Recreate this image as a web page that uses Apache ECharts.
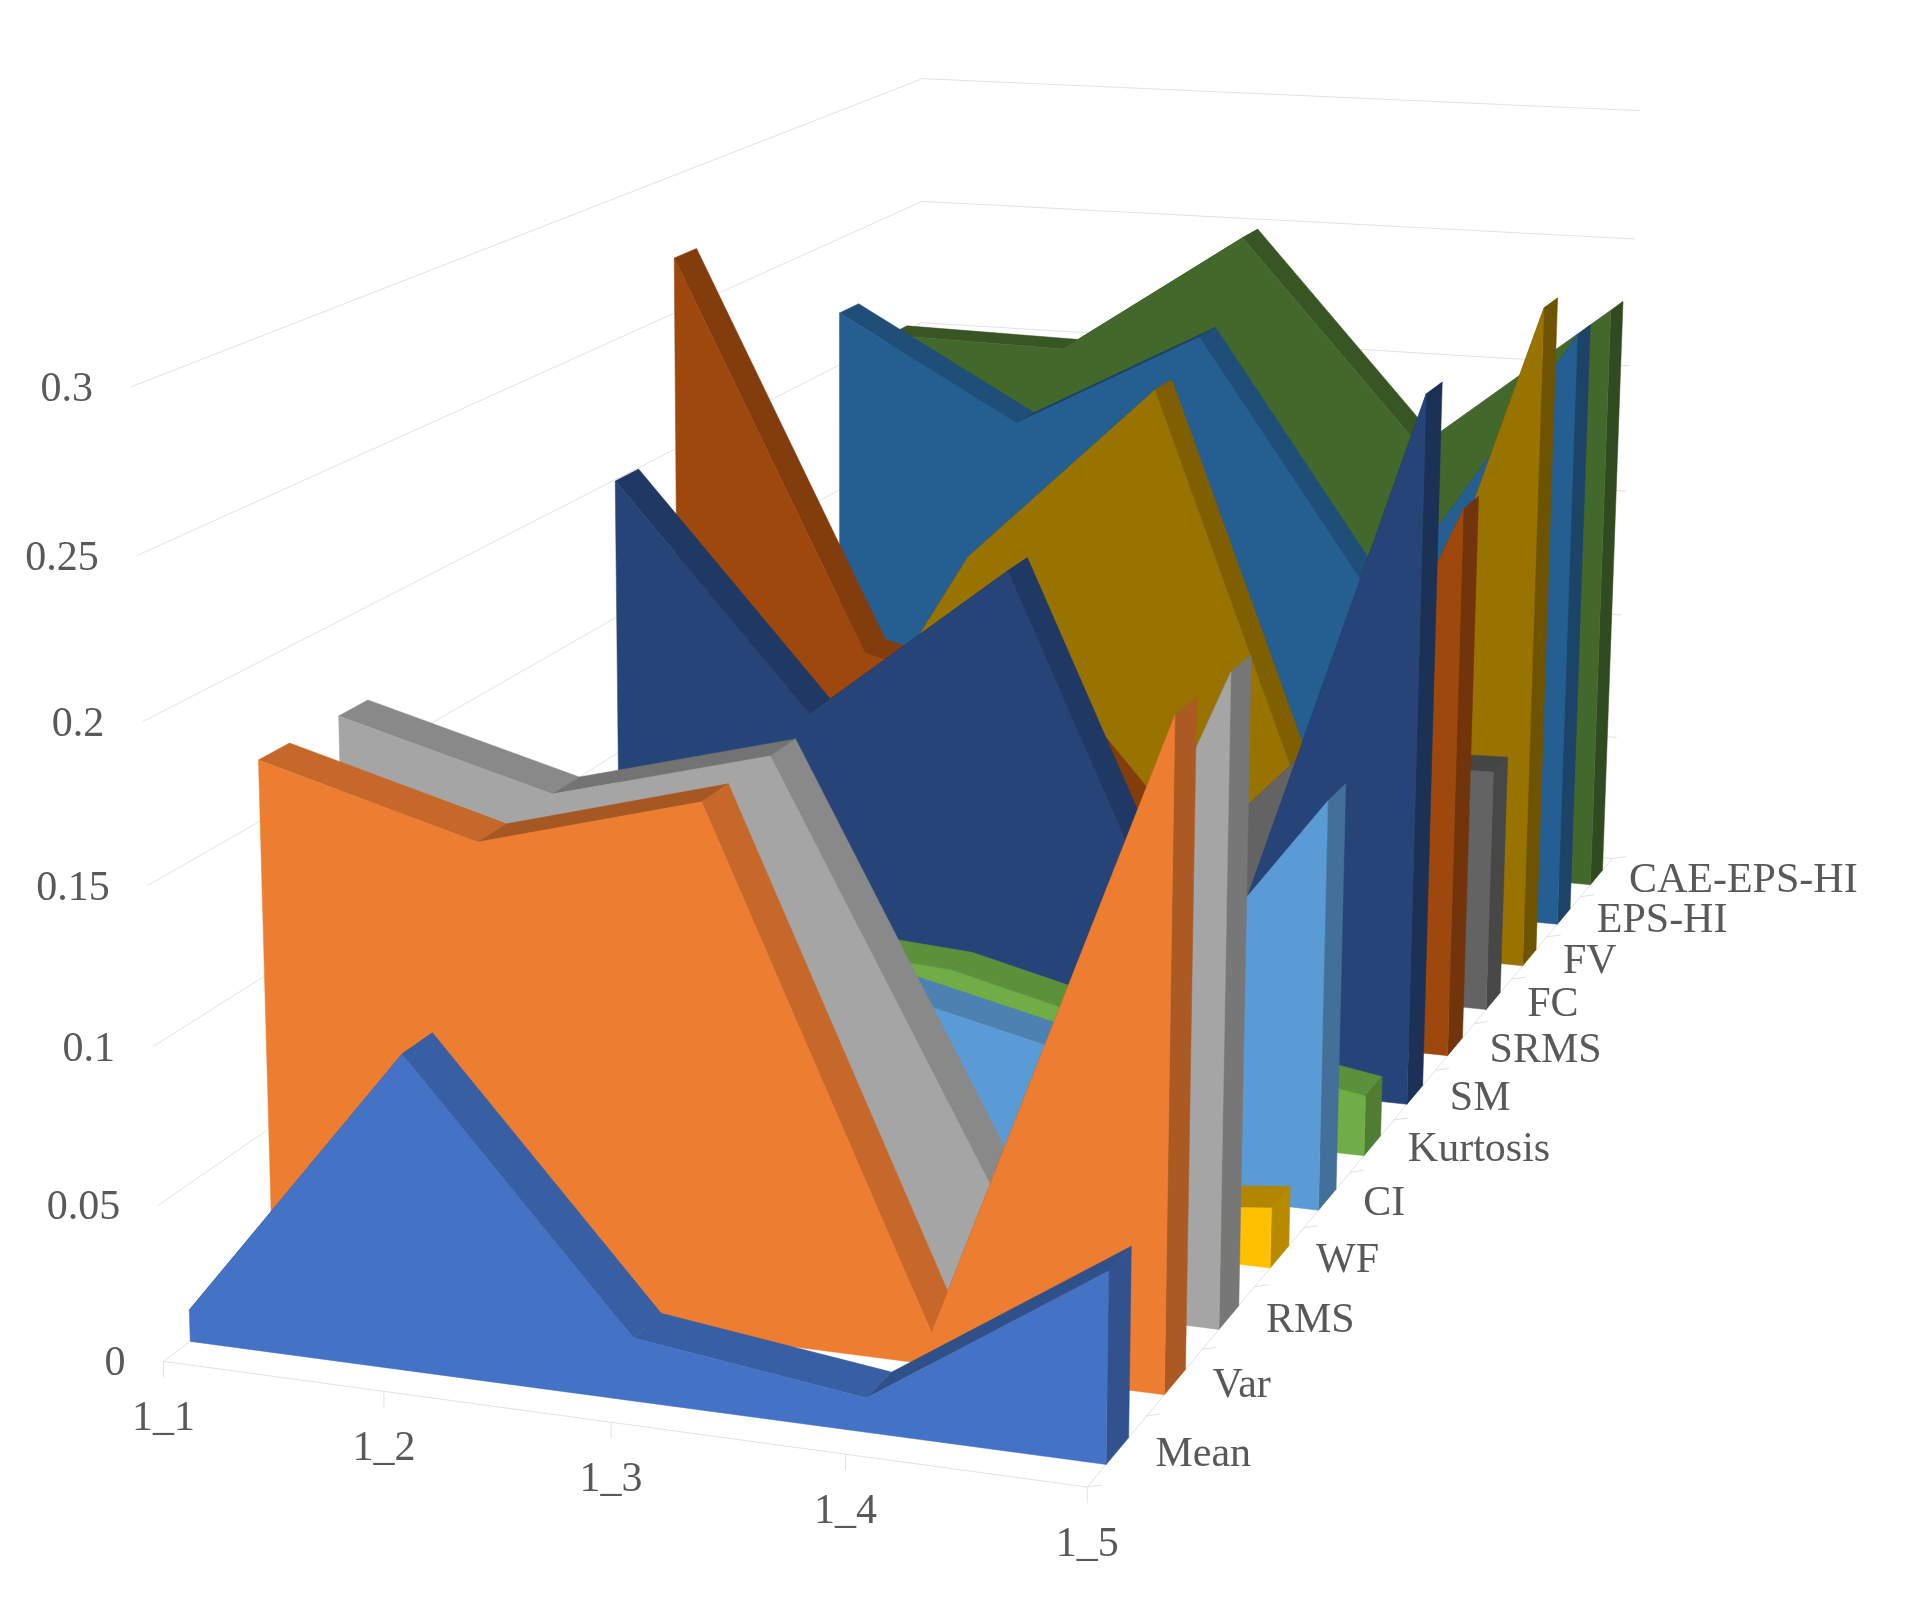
<!DOCTYPE html>
<html><head><meta charset="utf-8"><style>html,body{margin:0;background:#fff}#c{width:1906px;height:1606px;filter:blur(0.6px)}</style>
<script src="https://cdn.jsdelivr.net/npm/echarts@6/dist/echarts.min.js"></script></head><body><div id="c"></div>
<script>
const categories=['1_1','1_2','1_3','1_4','1_5'];
const seriesNames=['Mean','Var','RMS','WF','CI','Kurtosis','SM','SRMS','FC','FV','EPS-HI','CAE-EPS-HI'];
const valueTicks=[0,0.05,0.1,0.15,0.2,0.25,0.3];
const meanValues=[0.0102,0.1001,0.0199,0.0107,0.0590];
const varValues=[0.1695,0.1501,0.1694,0.0102,0.2085];
const rmsValues=[0.1695,0.1504,0.1692,0.0365,0.2078];
const wfValues=[0.01,0.012,0.014,0.012,0.0201];
const ciValues=[0.07,0.07,0.0582,0.0417,0.1383];
const kurtosisValues=[0.05,0.055,0.0502,0.0329,0.0211];
const smValues=[0.1995,0.1205,0.1778,0.0227,0.2493];
const srmsValues=[0.2701,0.1294,0.1125,0.0317,0.1982];
const fcValues=[0.0527,0.0593,0.0118,0.0876,0.0896];
const fvValues=[0.02,0.1404,0.2097,0.0232,0.2491];
const epsValues=[0.2206,0.1815,0.2197,0.1189,0.2291];
const caeValues=[0.2018,0.2005,0.249,0.1705,0.2284];
const allValues=[meanValues,varValues,rmsValues,wfValues,ciValues,kurtosisValues,smValues,srmsValues,fcValues,fvValues,epsValues,caeValues];
const colors=['#4472C4','#ED7D31','#A5A5A5','#FFC000','#5B9BD5','#70AD47','#264478','#9E480E','#636363','#997300','#255E91','#43682B'];
const GAP=0.31;
const floorPx=[[1105,1465,1128,1438],[1163,1395,1185,1369],[1219,1327,1238,1306],[1269,1269,1289,1248],[1318,1209,1337,1189],[1364,1155,1381,1137],[1407,1104,1423,1085],[1448,1054,1462,1039],[1487,1009,1501,993],[1522,965,1536,947],[1557,924,1570,910],[1591,885,1603,870]];
const anchors=[[0,0,0,166,1362],[4,0,0,1088,1488],[0,0,.3,131,384],[0,12,.3,921,79],[4,12,.3,1641,112],[0,12,.25,921,201],[4,12,.25,1635,240],[0,0,.25,137,555],[0,0,.2,143,722],[0,0,.15,149,885],[0,0,.1,153,1048],[0,0,.05,157,1206],[1,0,0,384,1391],[2,0,0,612,1424],[3,0,0,844,1453],[0,GAP,0,190,1342]];
floorPx.forEach((f,i)=>{anchors.push([4,i+GAP,0,f[0],f[1]]);anchors.push([4,i+1-GAP,0,f[2],f[3]]);});
function solve(){const n=11,A=[...Array(n)].map(()=>Array(n+1).fill(0));
 const add=(r,b)=>{for(let i=0;i<n;i++){for(let j=0;j<n;j++)A[i][j]+=r[i]*r[j];A[i][n]+=r[i]*b;}};
 anchors.forEach(a=>{const x=a[0]/4,y=a[1]/12,z=a[2]/.3,u=a[3]/1000,v=a[4]/1000;
  add([x,y,z,1,0,0,0,0,-u*x,-u*y,-u*z],u);add([0,0,0,0,x,y,z,1,-v*x,-v*y,-v*z],v);});
 for(let i=0;i<n;i++){let m=i;for(let k=i+1;k<n;k++)if(Math.abs(A[k][i])>Math.abs(A[m][i]))m=k;[A[i],A[m]]=[A[m],A[i]];
  for(let k=0;k<n;k++){if(k===i)continue;const f=A[k][i]/A[i][i];for(let j=i;j<=n;j++)A[k][j]-=f*A[i][j];}}
 return A.map((r,i)=>r[n]/r[i]);}
const p=solve();
function P(x,d,z){x/=4;d/=12;z/=.3;const w=p[8]*x+p[9]*d+p[10]*z+1;return[1000*(p[0]*x+p[1]*d+p[2]*z+p[3])/w,1000*(p[4]*x+p[5]*d+p[6]*z+p[7])/w];}
function shade(c,f){const n=parseInt(c.slice(1),16);return 'rgb('+[n>>16,(n>>8)&255,n&255].map(v=>Math.round(v*f)).join(',')+')';}
function poly(pts,fill){return{type:'polygon',shape:{points:pts},style:{fill,stroke:fill,lineWidth:.5}};}
function line(a,b){return{type:'line',shape:{x1:a[0],y1:a[1],x2:b[0],y2:b[1]},style:{stroke:'#e2e2e2',lineWidth:1}};}
function txt(t,x,y,al){return{type:'text',style:{text:t,x,y,align:al,verticalAlign:'middle',fontFamily:'Liberation Serif',fontSize:42,fill:'#595959'}};}
const series=[{type:'custom',coordinateSystem:'none',name:'axes',silent:true,data:[[0]],renderItem(){const ch=[];
 valueTicks.forEach(z=>{ch.push(line(P(0,0,z),P(0,12,z)));ch.push(line(P(0,12,z),P(4,12,z)));const q=P(0,0,z);ch.push(txt(String(z),q[0]-38,q[1]+3,'right'));});
 ch.push(line(P(0,0,0),P(4,0,0)));ch.push(line(P(4,0,0),P(4,12,0)));
 categories.forEach((c,k)=>{const q=P(k,0,0);ch.push(line(q,[q[0],q[1]+16]));ch.push(txt(c,q[0],q[1]+58,'center'));});
 seriesNames.forEach((s,i)=>{const q=P(4,i,0);ch.push(line(q,[q[0]+14,q[1]-2]));const m=P(4,i+.5,0);ch.push(txt(s,m[0]+38-i*.5,m[1]+4,'left'));});
 const q=P(4,12,0);ch.push(line(q,[q[0]+14,q[1]-2]));
 return{type:'group',children:ch};}}];
for(let i=seriesNames.length-1;i>=0;i--){const name=seriesNames[i];series.push({type:'custom',coordinateSystem:'none',name,silent:true,data:[allValues[i]],renderItem(pr,api){
 const v=[0,1,2,3,4].map(k=>api.value(k));const d0=i+GAP,d1=i+1-GAP,ch=[],c=colors[i];
 for(let k=0;k<4;k++)ch.push(poly([P(k,d0,v[k]),P(k+1,d0,v[k+1]),P(k+1,d1,v[k+1]),P(k,d1,v[k])],shade(c,v[k+1]>v[k]?.7:.83)));
 ch.push(poly([P(4,d0,0),P(4,d1,0),P(4,d1,v[4]),P(4,d0,v[4])],shade(c,.72)));
 const f=[P(0,d0,0)];for(let k=0;k<5;k++)f.push(P(k,d0,v[k]));f.push(P(4,d0,0));ch.push(poly(f,c));
 return{type:'group',children:ch};}});}
echarts.init(document.getElementById('c')).setOption({animation:false,backgroundColor:'#fff',series});
</script></body></html>
